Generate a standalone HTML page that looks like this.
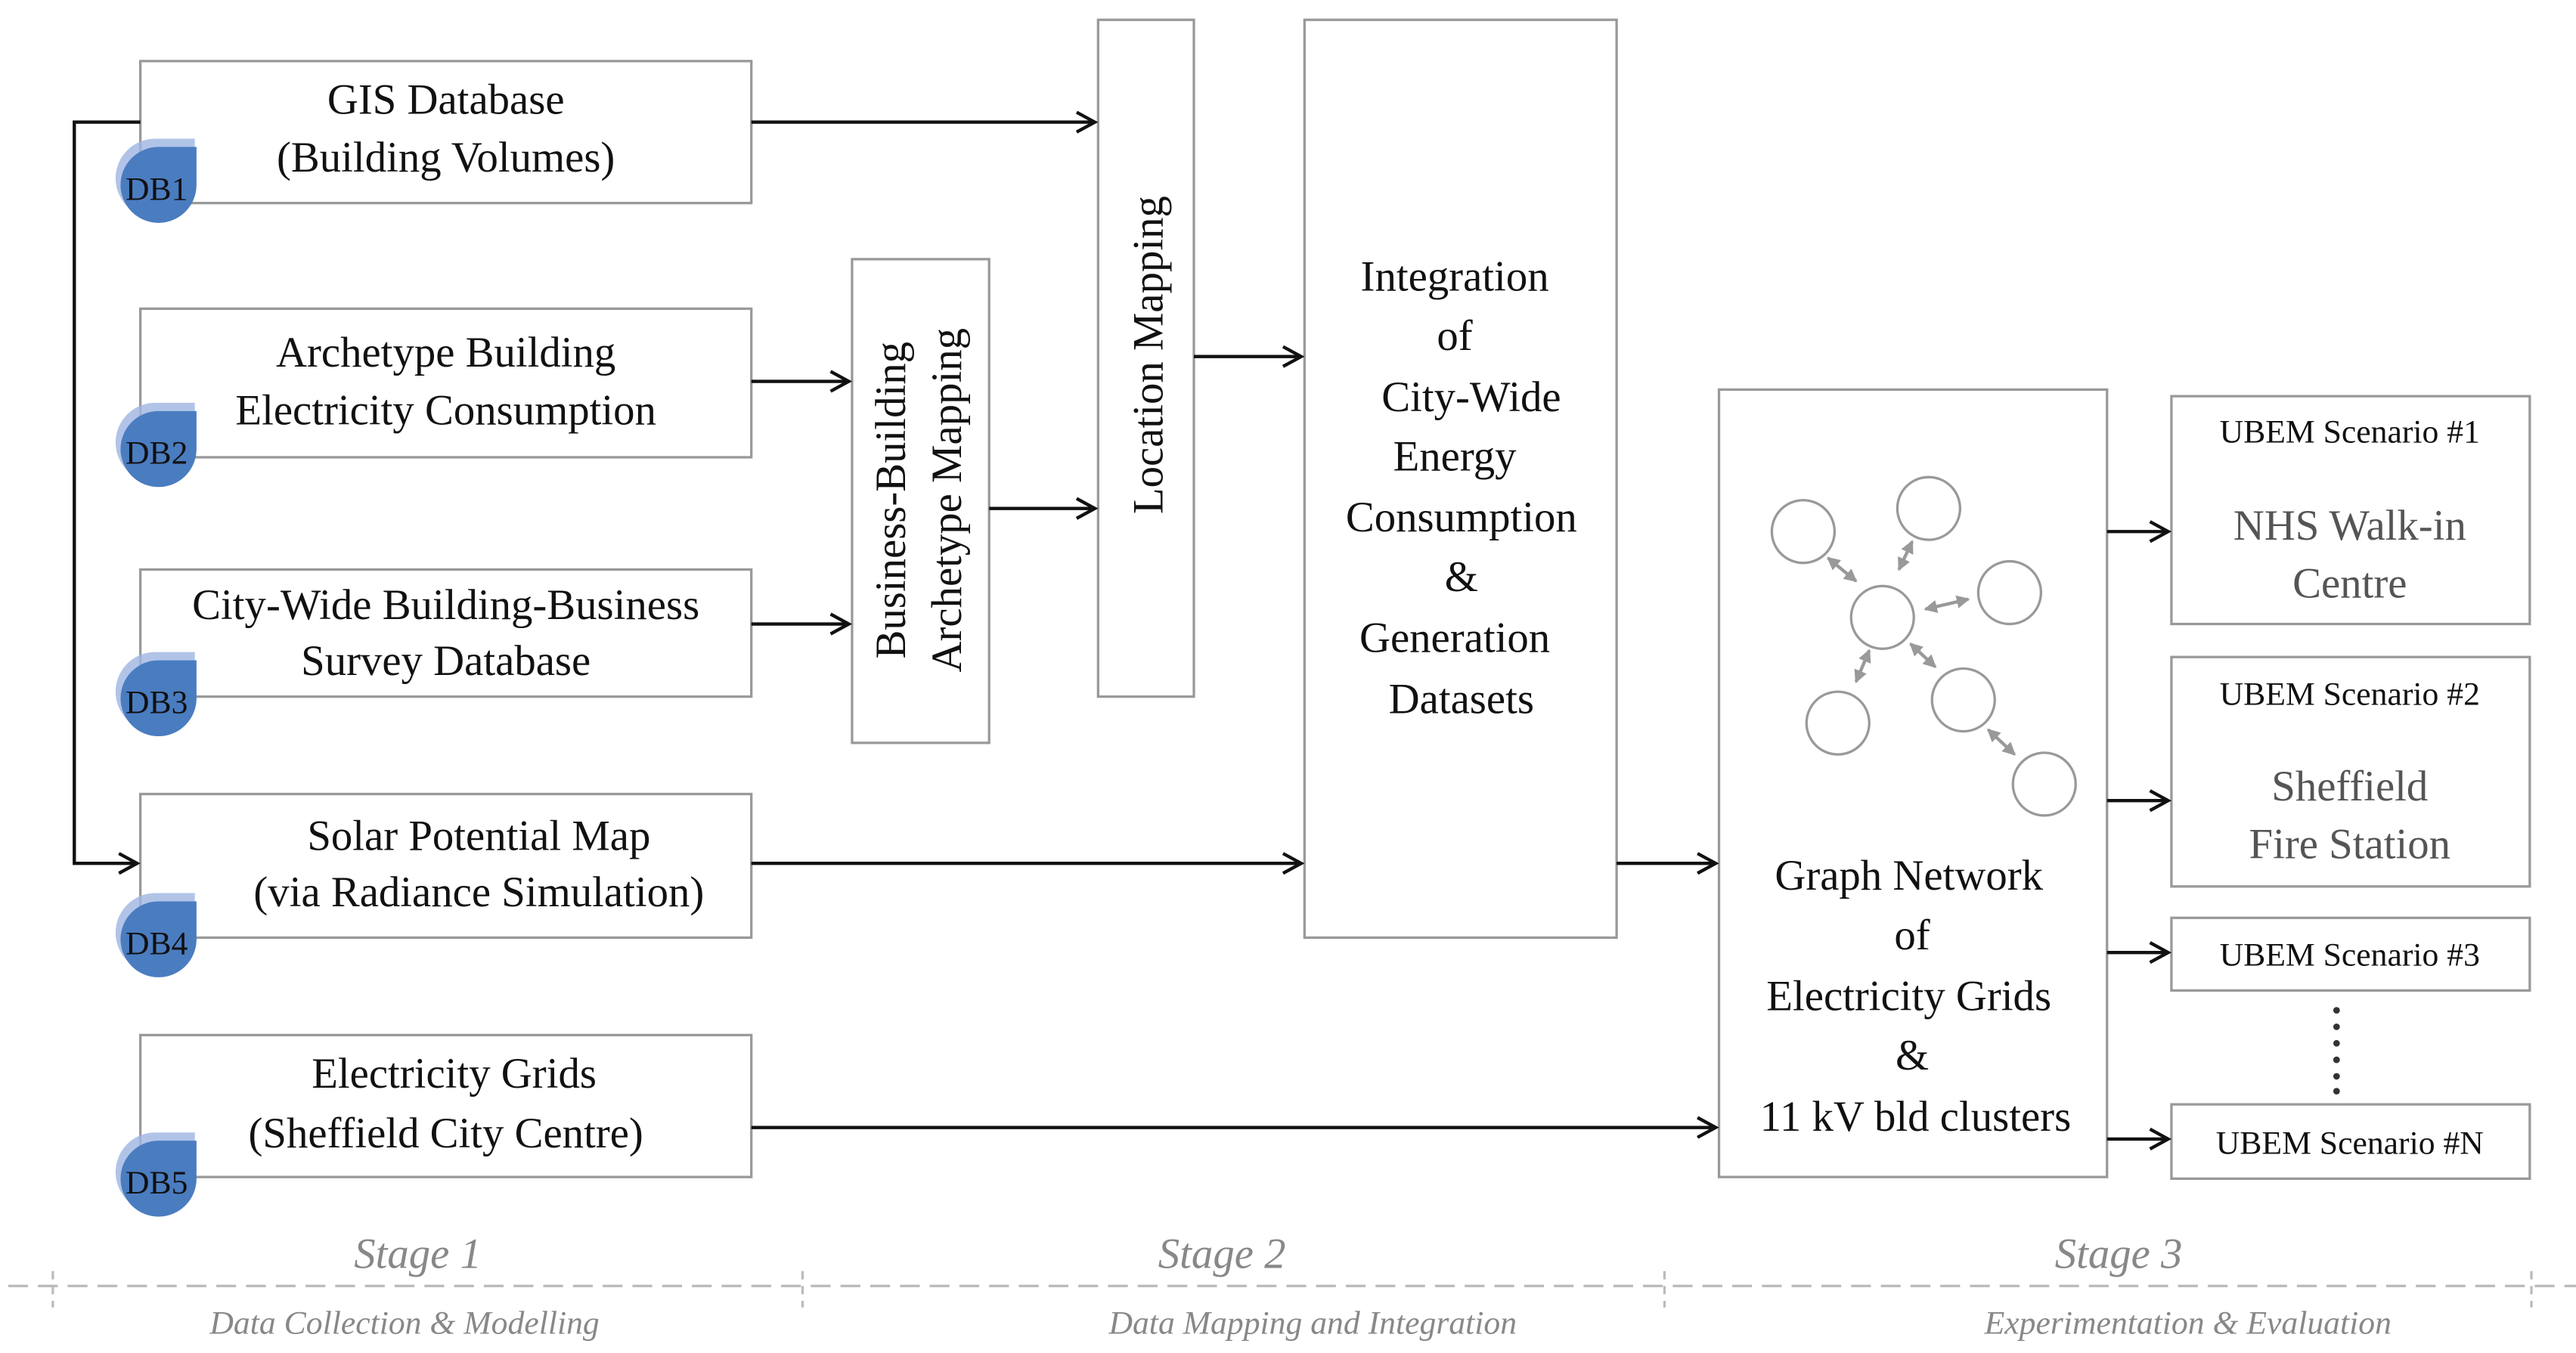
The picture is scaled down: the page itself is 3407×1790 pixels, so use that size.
<!DOCTYPE html>
<html><head><meta charset="utf-8"><style>
html,body{margin:0;padding:0;background:#fff}
svg{display:block}
text{font-family:"Liberation Serif",serif}
</style></head><body>
<svg width="3407" height="1790" viewBox="0 0 1560 819.6" xmlns="http://www.w3.org/2000/svg">
<defs>
<marker id="ah" markerWidth="14" markerHeight="14" refX="12" refY="7" orient="auto" markerUnits="userSpaceOnUse">
<path d="M1,1 L12,7 L1,13" fill="none" stroke="#111" stroke-width="2"/></marker>
<marker id="ga" markerWidth="8" markerHeight="8" refX="7" refY="4" orient="auto-start-reverse" markerUnits="userSpaceOnUse">
<path d="M0,0 L8,4 L0,8 Z" fill="#999"/></marker>
</defs>
<g fill="#fff" stroke="#999" stroke-width="1.5">
<rect x="85" y="37" width="370" height="86"/>
<rect x="85" y="187" width="370" height="90"/>
<rect x="85" y="345" width="370" height="77"/>
<rect x="85" y="481" width="370" height="87"/>
<rect x="85" y="627" width="370" height="86"/>
<rect x="516" y="157" width="83" height="293"/>
<rect x="665" y="12" width="58" height="410"/>
<rect x="790" y="12" width="189" height="556"/>
<rect x="1041" y="236" width="235" height="477"/>
<rect x="1315" y="240" width="217" height="138"/>
<rect x="1315" y="398" width="217" height="139"/>
<rect x="1315" y="556" width="217" height="44"/>
<rect x="1315" y="669" width="217" height="45"/>
</g>
<g stroke="#111" stroke-width="2" fill="none">
<path d="M85,74 L45,74 L45,523 L83,523" marker-end="url(#ah)"/>
<path d="M455,74 L663,74" marker-end="url(#ah)"/>
<path d="M455,231 L514,231" marker-end="url(#ah)"/>
<path d="M455,378 L514,378" marker-end="url(#ah)"/>
<path d="M599,308 L663,308" marker-end="url(#ah)"/>
<path d="M723,216 L788,216" marker-end="url(#ah)"/>
<path d="M455,523 L788,523" marker-end="url(#ah)"/>
<path d="M979,523 L1039,523" marker-end="url(#ah)"/>
<path d="M455,683 L1039,683" marker-end="url(#ah)"/>
<path d="M1276,322 L1313,322" marker-end="url(#ah)"/>
<path d="M1276,485 L1313,485" marker-end="url(#ah)"/>
<path d="M1276,577 L1313,577" marker-end="url(#ah)"/>
<path d="M1276,690 L1313,690" marker-end="url(#ah)"/>
</g>
<g id="db">
</g>
<g>
<path d="M70,108 A24 24 0 0 0 94,132 A24 24 0 0 0 118,108 L118,84 L94,84 A24 24 0 0 0 70,108Z" fill="#9db5e2" opacity="0.8"/>
<path d="M73,112 A23 23 0 0 0 96,135 A23 23 0 0 0 119,112 L119,89 L96,89 A23 23 0 0 0 73,112Z" fill="#4a7cc0"/>
<text x="76" y="121" font-size="20" fill="#111">DB1</text>
</g>
<g transform="translate(0,160)">
<path d="M70,108 A24 24 0 0 0 94,132 A24 24 0 0 0 118,108 L118,84 L94,84 A24 24 0 0 0 70,108Z" fill="#9db5e2" opacity="0.8"/>
<path d="M73,112 A23 23 0 0 0 96,135 A23 23 0 0 0 119,112 L119,89 L96,89 A23 23 0 0 0 73,112Z" fill="#4a7cc0"/>
<text x="76" y="121" font-size="20" fill="#111">DB2</text>
</g>
<g transform="translate(0,311)">
<path d="M70,108 A24 24 0 0 0 94,132 A24 24 0 0 0 118,108 L118,84 L94,84 A24 24 0 0 0 70,108Z" fill="#9db5e2" opacity="0.8"/>
<path d="M73,112 A23 23 0 0 0 96,135 A23 23 0 0 0 119,112 L119,89 L96,89 A23 23 0 0 0 73,112Z" fill="#4a7cc0"/>
<text x="76" y="121" font-size="20" fill="#111">DB3</text>
</g>
<g transform="translate(0,457)">
<path d="M70,108 A24 24 0 0 0 94,132 A24 24 0 0 0 118,108 L118,84 L94,84 A24 24 0 0 0 70,108Z" fill="#9db5e2" opacity="0.8"/>
<path d="M73,112 A23 23 0 0 0 96,135 A23 23 0 0 0 119,112 L119,89 L96,89 A23 23 0 0 0 73,112Z" fill="#4a7cc0"/>
<text x="76" y="121" font-size="20" fill="#111">DB4</text>
</g>
<g transform="translate(0,602)">
<path d="M70,108 A24 24 0 0 0 94,132 A24 24 0 0 0 118,108 L118,84 L94,84 A24 24 0 0 0 70,108Z" fill="#9db5e2" opacity="0.8"/>
<path d="M73,112 A23 23 0 0 0 96,135 A23 23 0 0 0 119,112 L119,89 L96,89 A23 23 0 0 0 73,112Z" fill="#4a7cc0"/>
<text x="76" y="121" font-size="20" fill="#111">DB5</text>
</g>
<g font-size="26" fill="#111" text-anchor="middle">
<text x="270" y="69">GIS Database</text>
<text x="270" y="104">(Building Volumes)</text>
<text x="270" y="222">Archetype Building</text>
<text x="270" y="257">Electricity Consumption</text>
<text x="270" y="375">City-Wide Building-Business</text>
<text x="270" y="409">Survey Database</text>
<text x="290" y="515">Solar Potential Map</text>
<text x="290" y="549">(via Radiance Simulation)</text>
<text x="275" y="659">Electricity Grids</text>
<text x="270" y="695">(Sheffield City Centre)</text>
<text transform="translate(548,303) rotate(-90)">Business-Building</text>
<text transform="translate(582,303) rotate(-90)">Archetype Mapping</text>
<text transform="translate(704,215) rotate(-90)">Location Mapping</text>
<text x="881" y="176">Integration</text>
<text x="881" y="212">of</text>
<text x="891" y="249">City-Wide</text>
<text x="881" y="285">Energy</text>
<text x="885" y="322">Consumption</text>
<text x="885" y="358">&amp;</text>
<text x="881" y="395">Generation</text>
<text x="885" y="432">Datasets</text>
<text x="1156" y="539">Graph Network</text>
<text x="1158" y="575">of</text>
<text x="1156" y="612">Electricity Grids</text>
<text x="1158" y="648">&amp;</text>
<text x="1160" y="685">11 kV bld clusters</text>
</g>
<g font-size="20" fill="#111" text-anchor="middle">
<text x="1423" y="268">UBEM Scenario #1</text>
<text x="1423" y="427">UBEM Scenario #2</text>
<text x="1423" y="585">UBEM Scenario #3</text>
<text x="1423" y="699">UBEM Scenario #N</text>
</g>
<g font-size="26" fill="#555" text-anchor="middle">
<text x="1423" y="327">NHS Walk-in</text>
<text x="1423" y="362">Centre</text>
<text x="1423" y="485">Sheffield</text>
<text x="1423" y="520">Fire Station</text>
</g>
<g fill="#333"><circle cx="1415" cy="612" r="2"/><circle cx="1415" cy="622" r="2"/><circle cx="1415" cy="632" r="2"/><circle cx="1415" cy="642" r="2"/><circle cx="1415" cy="652" r="2"/><circle cx="1415" cy="661" r="2"/></g>
<g fill="none" stroke="#999" stroke-width="1.5">
<circle cx="1092" cy="322" r="19"/><circle cx="1168" cy="308" r="19"/><circle cx="1217" cy="359" r="19"/>
<circle cx="1140" cy="374" r="19"/><circle cx="1189" cy="424" r="19"/><circle cx="1113" cy="438" r="19"/><circle cx="1238" cy="475" r="19"/>
</g>
<g stroke="#999" stroke-width="2" marker-start="url(#ga)" marker-end="url(#ga)">
<line x1="1107" y1="338" x2="1124" y2="352"/>
<line x1="1158" y1="328" x2="1150" y2="345"/>
<line x1="1166" y1="369" x2="1192" y2="363"/>
<line x1="1132" y1="394" x2="1124" y2="413"/>
<line x1="1157" y1="390" x2="1172" y2="404"/>
<line x1="1204" y1="442" x2="1220" y2="457"/>
</g>
<g stroke="#bbb" stroke-width="1.5" fill="none">
<line x1="5" y1="779" x2="1560" y2="779" stroke-dasharray="12,6"/>
<line x1="32" y1="770" x2="32" y2="792" stroke-dasharray="5,4"/>
<line x1="486" y1="770" x2="486" y2="792" stroke-dasharray="5,4"/>
<line x1="1008" y1="770" x2="1008" y2="792" stroke-dasharray="5,4"/>
<line x1="1533" y1="770" x2="1533" y2="792" stroke-dasharray="5,4"/>
</g>
<g font-style="italic" fill="#888" text-anchor="middle">
<text x="253" y="768" font-size="26">Stage 1</text>
<text x="740" y="768" font-size="26">Stage 2</text>
<text x="1283" y="768" font-size="26">Stage 3</text>
<text x="245" y="808" font-size="20">Data Collection &amp; Modelling</text>
<text x="795" y="808" font-size="20">Data Mapping and Integration</text>
<text x="1325" y="808" font-size="20">Experimentation &amp; Evaluation</text>
</g>
</svg>
</body></html>
